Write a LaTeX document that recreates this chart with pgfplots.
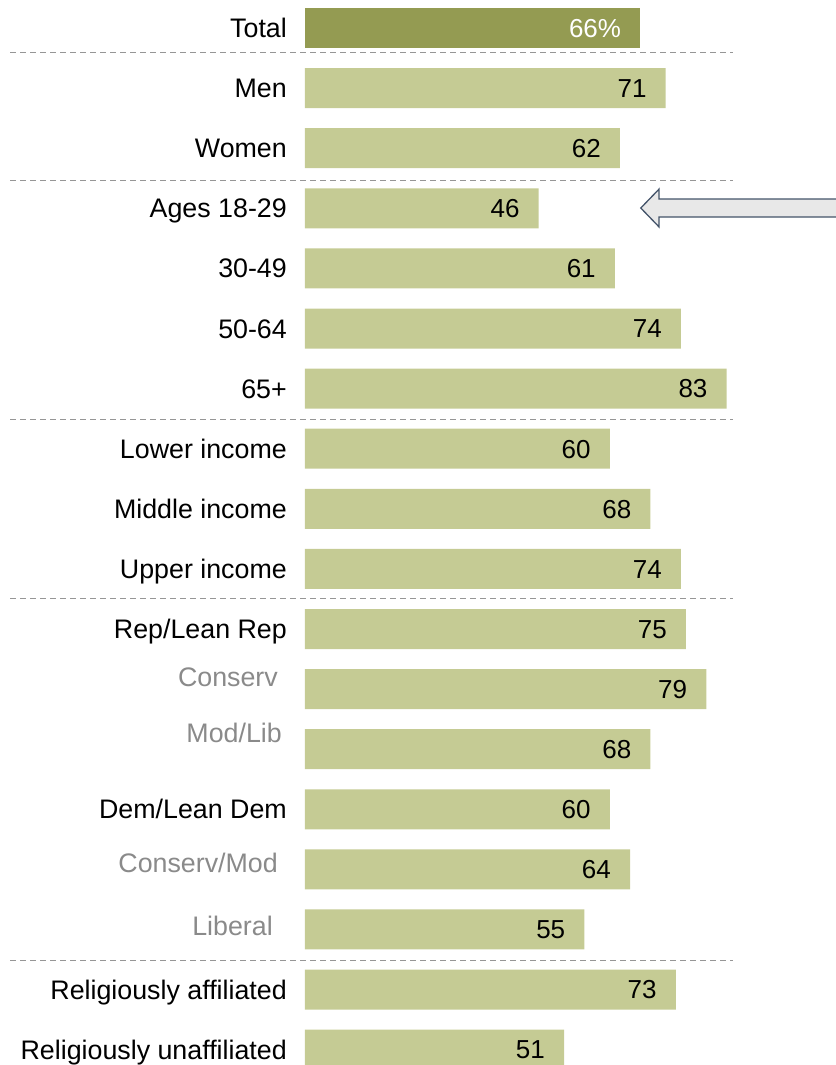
\documentclass[border=0pt]{standalone}
\usepackage{fontspec}
\setmainfont{Liberation Sans}
\usepackage{pgfplots}
\pgfplotsset{compat=1.18}
\definecolor{barDark}{RGB}{148,155,82}
\definecolor{barLight}{RGB}{197,203,148}
\definecolor{labGray}{RGB}{138,138,138}
\definecolor{sepGray}{RGB}{150,150,150}
\definecolor{arrowEdge}{RGB}{68,84,106}
\definecolor{arrowFill}{RGB}{232,232,232}
\newcommand{\gap}[1]{\rule{#1}{0pt}}
\begin{document}
\begin{tikzpicture}
\begin{axis}[
  scale only axis,
  width=431.8bp, height=1065bp,
  xmin=0, xmax=85,
  ymin=-0.466, ymax=17.255,
  y dir=reverse,
  xbar, bar width=40bp, bar shift=0pt,
  axis line style={draw=none},
  major tick length=0pt,
  xtick=\empty,
  ytick={0,...,17},
  yticklabels={Total, Men, Women, Ages 18-29, 30-49, 50-64, 65+, Lower income, Middle income, Upper income, Rep/Lean Rep,
    {\textcolor{labGray}{\raisebox{12bp}{Conserv}}\gap{9bp}},
    {\textcolor{labGray}{\raisebox{16bp}{Mod/Lib}}\gap{5bp}},
    Dem/Lean Dem,
    {\textcolor{labGray}{\raisebox{6.5bp}{Conserv/Mod}}\gap{9bp}},
    {\textcolor{labGray}{\raisebox{3bp}{Liberal}}\gap{14bp}},
    Religiously affiliated, Religiously unaffiliated},
  yticklabel style={anchor=base east, inner sep=0pt, xshift=-18bp, yshift=-9.5bp,
    font=\fontsize{26.8bp}{30bp}\selectfont},
  /pgf/number format/assume math mode=true,
  nodes near coords,
  every node near coord/.append style={anchor=base east, inner sep=0pt, xshift=-19bp, yshift=-9.3bp,
    font=\fontsize{26bp}{30bp}\selectfont},
  clip=false,
]
\addplot[fill=barDark, draw=none,
  nodes near coords={\pgfmathprintnumber{\pgfplotspointmeta}\%},
  every node near coord/.append style={text=white}]
  coordinates {(66,0)};
\addplot[fill=barLight, draw=none, every node near coord/.append style={text=black}]
  coordinates {
  (71,1) (62,2) (46,3) (61,4) (74,5) (83,6)
  (60,7) (68,8) (74,9)
  (75,10) (79,11) (68,12) (60,13) (64,14) (55,15)
  (73,16) (51,17)};
\draw[sepGray, line width=1bp, dash pattern=on 6bp off 4bp] (axis cs:-58,0.40) -- (axis cs:84.2,0.40);
\draw[sepGray, line width=1bp, dash pattern=on 6bp off 4bp] (axis cs:-58,2.53) -- (axis cs:84.2,2.53);
\draw[sepGray, line width=1bp, dash pattern=on 6bp off 4bp] (axis cs:-58,6.51) -- (axis cs:84.2,6.51);
\draw[sepGray, line width=1bp, dash pattern=on 6bp off 4bp] (axis cs:-58,9.49) -- (axis cs:84.2,9.49);
\draw[sepGray, line width=1bp, dash pattern=on 6bp off 4bp] (axis cs:-58,15.51) -- (axis cs:84.2,15.51);
\draw[arrowEdge, fill=arrowFill, line width=1.3bp, line join=miter]
  (axis cs:66.1,2.995) -- (axis cs:69.7,2.68) -- (axis cs:69.7,2.845)
  -- (axis cs:106,2.845) -- (axis cs:106,3.145) -- (axis cs:69.7,3.145)
  -- (axis cs:69.7,3.31) -- cycle;
\coordinate (bl) at (rel axis cs:0,0);
\end{axis}
\pgfresetboundingbox
\path[use as bounding box] (bl) ++(-305bp,0) rectangle ++(836bp,1065bp);
\end{tikzpicture}
\end{document}
